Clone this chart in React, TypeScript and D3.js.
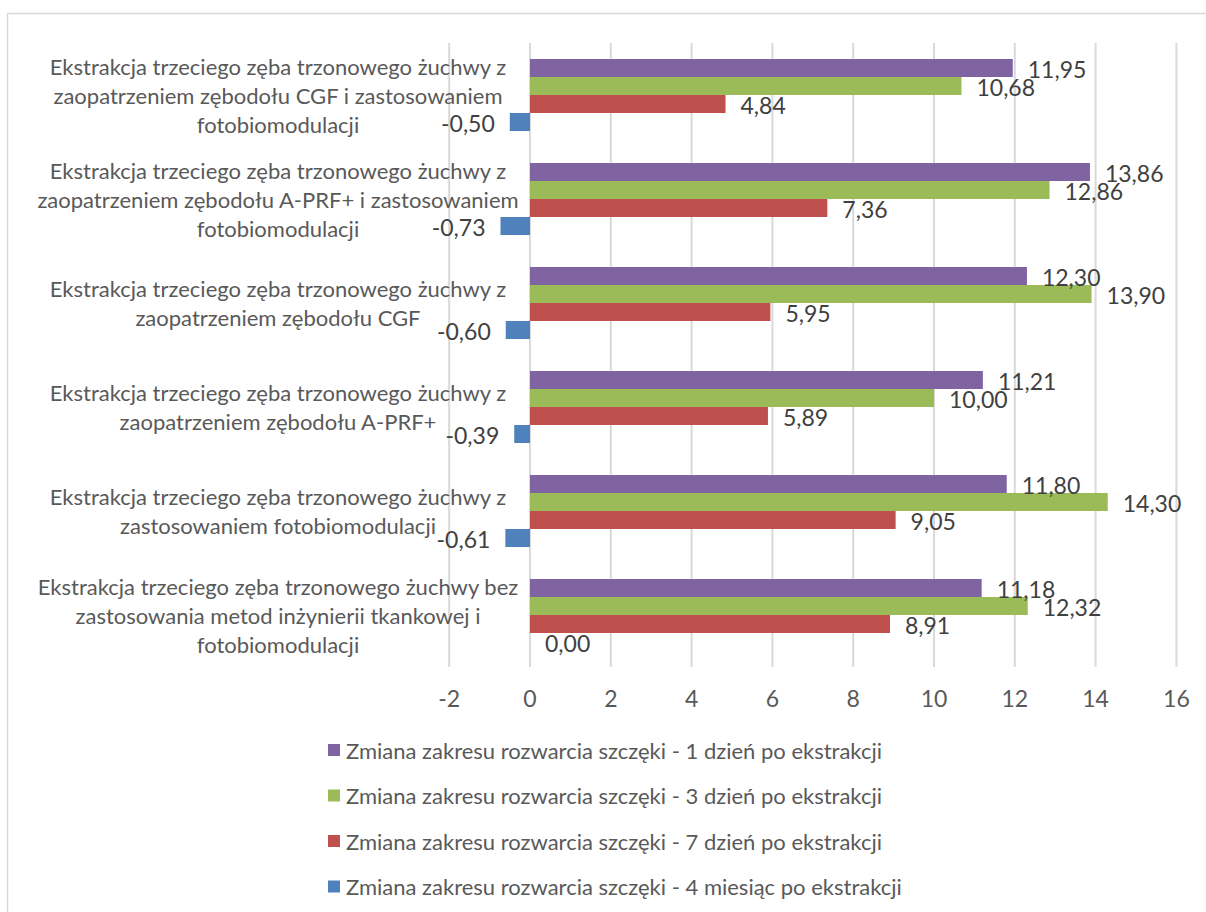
import React, { useMemo } from "react";
import * as d3 from "d3";

// Category labels (line breaks as they wrap in the axis area), top to bottom
const categories: string[] = [
  "Ekstrakcja trzeciego zęba trzonowego żuchwy z\nzaopatrzeniem zębodołu CGF i zastosowaniem\nfotobiomodulacji",
  "Ekstrakcja trzeciego zęba trzonowego żuchwy z\nzaopatrzeniem zębodołu A-PRF+ i zastosowaniem\nfotobiomodulacji",
  "Ekstrakcja trzeciego zęba trzonowego żuchwy z\nzaopatrzeniem zębodołu CGF",
  "Ekstrakcja trzeciego zęba trzonowego żuchwy z\nzaopatrzeniem zębodołu A-PRF+",
  "Ekstrakcja trzeciego zęba trzonowego żuchwy z\nzastosowaniem fotobiomodulacji",
  "Ekstrakcja trzeciego zęba trzonowego żuchwy bez\nzastosowania metod inżynierii tkankowej i\nfotobiomodulacji",
];

const seriesNames: string[] = [
  "Zmiana zakresu rozwarcia szczęki - 1 dzień po ekstrakcji",
  "Zmiana zakresu rozwarcia szczęki - 3 dzień po ekstrakcji",
  "Zmiana zakresu rozwarcia szczęki - 7 dzień po ekstrakcji",
  "Zmiana zakresu rozwarcia szczęki - 4 miesiąc po ekstrakcji",
];

const day1: number[] = [11.95, 13.86, 12.3, 11.21, 11.8, 11.18];
const day3: number[] = [10.68, 12.86, 13.9, 10.0, 14.3, 12.32];
const day7: number[] = [4.84, 7.36, 5.95, 5.89, 9.05, 8.91];
const month4: number[] = [-0.5, -0.73, -0.6, -0.39, -0.61, 0.0];

const seriesColors: string[] = ["#8064A2", "#9BBB59", "#C0504D", "#4F81BD"];

const xTicks: number[] = [-2, 0, 2, 4, 6, 8, 10, 12, 14, 16];

const FONT = "Lato, 'Open Sans', sans-serif";

const plLocale = d3.formatLocale({
  decimal: ",",
  thousands: " ",
  grouping: [3],
  currency: ["", " zł"],
  minus: "-",
});
const fmtValue = plLocale.format(".2f");
const fmtTick = plLocale.format("d");

export default function App() {
  const width = 1206;
  const height = 912;

  const seriesValues = [day1, day3, day7, month4];

  const x = useMemo(
    () => d3.scaleLinear().domain([-2, 16]).range([449.2, 1176.4]),
    []
  );
  const p = 32 / 104;
  const y = useMemo(
    () =>
      d3
        .scaleBand<string>()
        .domain(categories)
        .range([43, 667])
        .paddingInner(p)
        .paddingOuter(p / 2),
    []
  );
  const ySub = useMemo(
    () =>
      d3
        .scaleBand<string>()
        .domain(seriesNames)
        .range([0, y.bandwidth()]),
    [y]
  );

  const labelCenterX = 278;
  const lineGap = 29;
  const legendX = 328;
  const legendY0 = 750;
  const legendStep = 45.5;

  return (
    <svg
      width={width}
      height={height}
      style={{ position: "absolute", left: 0, top: 0, background: "#fff" }}
      fontFamily={FONT}
    >
      <rect x={0} y={0} width={width} height={height} fill="#ffffff" />
      {/* chart area frame */}
      <rect
        x={7.5}
        y={13.5}
        width={width + 20}
        height={height + 20}
        fill="none"
        stroke="#D9D9D9"
        strokeWidth={1.5}
      />

      {/* vertical gridlines */}
      {xTicks.map((t) => (
        <line
          key={"g" + t}
          x1={x(t)}
          x2={x(t)}
          y1={43}
          y2={667}
          stroke="#D9D9D9"
          strokeWidth={2}
        />
      ))}

      {/* bars */}
      {seriesValues.map((vals, si) =>
        vals.map((v, ci) => {
          const cat = categories[ci];
          const yTop = (y(cat) as number) + (ySub(seriesNames[si]) as number);
          const x0 = x(Math.min(0, v));
          const w = Math.abs(x(v) - x(0));
          return (
            <rect
              key={`b${si}-${ci}`}
              x={x0}
              y={yTop}
              width={w}
              height={ySub.bandwidth()}
              fill={seriesColors[si]}
            />
          );
        })
      )}

      {/* data labels */}
      {seriesValues.map((vals, si) =>
        vals.map((v, ci) => {
          const cat = categories[ci];
          const yMid =
            (y(cat) as number) +
            (ySub(seriesNames[si]) as number) +
            ySub.bandwidth() / 2 +
            1;
          const neg = v < 0;
          return (
            <text
              key={`l${si}-${ci}`}
              x={neg ? x(v) - 15 : x(v) + 15}
              y={yMid}
              textAnchor={neg ? "end" : "start"}
              dominantBaseline="central"
              fontSize={23}
              fill="#404040"
            >
              {fmtValue(v)}
            </text>
          );
        })
      )}

      {/* category labels */}
      {categories.map((cat) => {
        const lines = cat.split("\n");
        const cy = (y(cat) as number) + y.bandwidth() / 2;
        const start = cy - ((lines.length - 1) * lineGap) / 2;
        return (
          <text
            key={"c" + cat}
            textAnchor="middle"
            fontSize={22}
            fill="#595959"
          >
            {lines.map((ln, i) => (
              <tspan
                key={i}
                x={labelCenterX}
                y={start + i * lineGap}
                dominantBaseline="central"
              >
                {ln}
              </tspan>
            ))}
          </text>
        );
      })}

      {/* x tick labels */}
      {xTicks.map((t) => (
        <text
          key={"t" + t}
          x={x(t)}
          y={698}
          textAnchor="middle"
          dominantBaseline="central"
          fontSize={23}
          fill="#595959"
        >
          {fmtTick(t)}
        </text>
      ))}

      {/* legend */}
      {seriesNames.map((name, i) => (
        <g key={"lg" + i} transform={`translate(${legendX},${legendY0 + i * legendStep})`}>
          <rect x={0} y={-6} width={12} height={12} fill={seriesColors[i]} />
          <text
            x={18}
            y={0}
            dominantBaseline="central"
            fontSize={22}
            fill="#595959"
          >
            {name}
          </text>
        </g>
      ))}
    </svg>
  );
}
